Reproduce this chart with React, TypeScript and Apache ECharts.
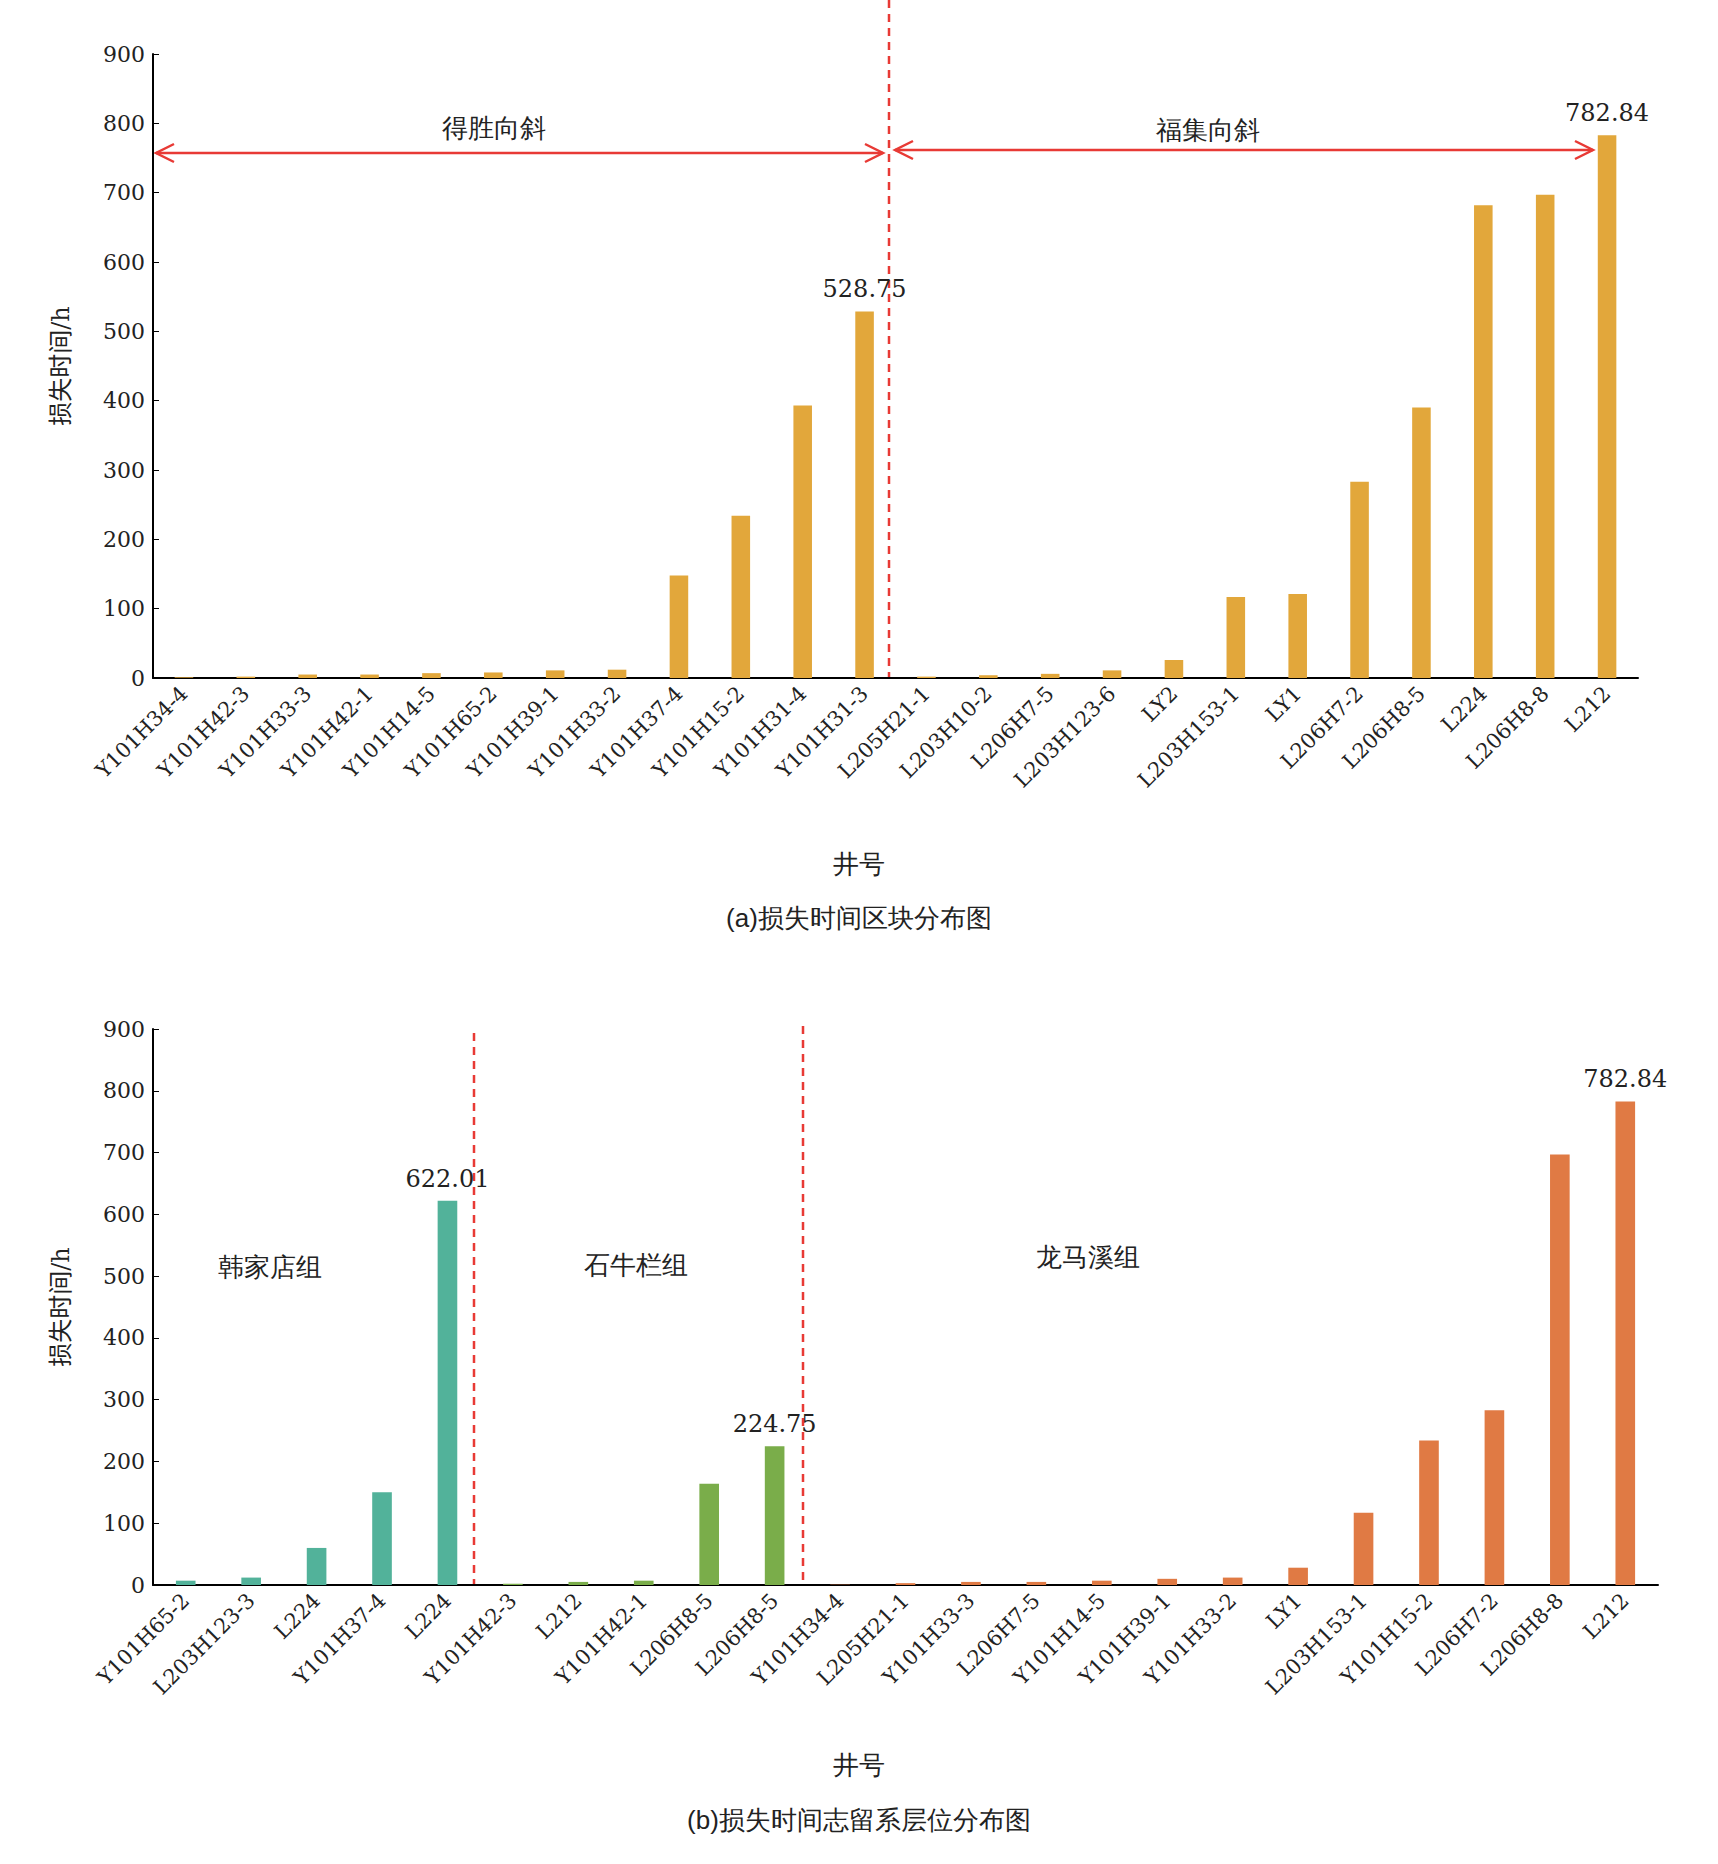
import { useEffect, useRef } from "react";
import * as echarts from "echarts";

const wellsA = [
  "Y101H34-4", "Y101H42-3", "Y101H33-3", "Y101H42-1", "Y101H14-5", "Y101H65-2", "Y101H39-1", "Y101H33-2",
  "Y101H37-4", "Y101H15-2", "Y101H31-4", "Y101H31-3", "L205H21-1", "L203H10-2", "L206H7-5", "L203H123-6",
  "LY2", "L203H153-1", "LY1", "L206H7-2", "L206H8-5", "L224", "L206H8-8", "L212",
];
const lossA = [1, 2, 5, 5, 7, 8, 11, 12, 148, 234, 393, 528.75, 2, 4, 6, 11, 26, 117, 121, 283, 390, 682, 697, 782.84];
const labeledA = [11, 23];

const wellsB = [
  "Y101H65-2", "L203H123-3", "L224", "Y101H37-4", "L224",
  "Y101H42-3", "L212", "Y101H42-1", "L206H8-5", "L206H8-5",
  "Y101H34-4", "L205H21-1", "Y101H33-3", "L206H7-5", "Y101H14-5", "Y101H39-1", "Y101H33-2", "LY1",
  "L203H153-1", "Y101H15-2", "L206H7-2", "L206H8-8", "L212",
];
const lossB = [7, 12, 60, 150, 622.01, 2, 5, 7, 164, 224.75, 0.5, 3, 5, 5, 7, 10, 12, 28, 117, 234, 283, 697, 782.84];
const groupB = [0, 0, 0, 0, 0, 1, 1, 1, 1, 1, 2, 2, 2, 2, 2, 2, 2, 2, 2, 2, 2, 2, 2];
const labeledB = [4, 9, 22];
const groupColors = ["#52B29A", "#7AAD4A", "#E07A44"];
const colorA = "#E2A73B";

const FONT = "'DejaVu Serif', 'Liberation Serif', 'Noto Sans CJK SC', serif";
const RED = "#E83A35";

export default function App() {
  const ref = useRef<HTMLDivElement>(null);

  useEffect(() => {
    if (!ref.current) return;
    const chart = echarts.init(ref.current, undefined, { renderer: "svg" });
    const axisLabel = { rotate: 45, interval: 0, fontSize: 21, color: "#222", fontFamily: FONT, margin: 12 };
    const yAxisBase = {
      type: "value" as const, min: 0, max: 900, interval: 100,
      name: "损失时间/h", nameLocation: "middle" as const, nameGap: 80,
      nameTextStyle: { fontSize: 24, color: "#222", fontFamily: FONT },
      axisLine: { show: true, lineStyle: { color: "#000", width: 2 } },
      axisTick: { show: true, inside: true, length: 6, lineStyle: { color: "#000" } },
      splitLine: { show: false },
      axisLabel: { fontSize: 22, color: "#222", fontFamily: FONT },
    };
    const xAxisBase = {
      type: "category" as const,
      axisLine: { lineStyle: { color: "#000", width: 2 } },
      axisTick: { show: false },
      axisLabel,
    };
    const dataLabel = { show: true, position: "top" as const, fontSize: 24, color: "#222", fontFamily: FONT, distance: 10 };
    const dash = (x: number, y1: number, y2: number) => ({
      type: "line", shape: { x1: x, y1, x2: x, y2 }, style: { stroke: RED, lineWidth: 2.5, lineDash: [8, 6] },
    });
    const arrow = (x1: number, x2: number, y: number) => [
      { type: "line", shape: { x1, y1: y, x2, y2: y }, style: { stroke: RED, lineWidth: 2.5 } },
      { type: "polyline", shape: { points: [[x1 + 18, y - 9], [x1, y], [x1 + 18, y + 9]] }, style: { stroke: RED, lineWidth: 2.5, fill: "none" } },
      { type: "polyline", shape: { points: [[x2 - 18, y - 9], [x2, y], [x2 - 18, y + 9]] }, style: { stroke: RED, lineWidth: 2.5, fill: "none" } },
    ];
    const txt = (x: number, y: number, text: string, size = 26) => ({
      type: "text", x, y, style: { text, fontSize: size, fill: "#222", font: `${size}px ${FONT}`, align: "center", verticalAlign: "middle" },
    });

    chart.setOption({
      animation: false,
      backgroundColor: "#fff",
      textStyle: { fontFamily: FONT },
      grid: [
        { left: 153, top: 54, width: 1485, height: 624 },
        { left: 153, top: 1029, width: 1505, height: 556 },
      ],
      xAxis: [
        { ...xAxisBase, gridIndex: 0, data: wellsA },
        { ...xAxisBase, gridIndex: 1, data: wellsB },
      ],
      yAxis: [
        { ...yAxisBase, gridIndex: 0 },
        { ...yAxisBase, gridIndex: 1 },
      ],
      series: [
        {
          type: "bar", xAxisIndex: 0, yAxisIndex: 0, barWidth: "30%",
          data: lossA.map((v, i) => ({ value: v, itemStyle: { color: colorA }, label: labeledA.includes(i) ? dataLabel : { show: false } })),
        },
        {
          type: "bar", xAxisIndex: 1, yAxisIndex: 1, barWidth: "30%",
          data: lossB.map((v, i) => ({ value: v, itemStyle: { color: groupColors[groupB[i]] }, label: labeledB.includes(i) ? dataLabel : { show: false } })),
        },
      ],
      graphic: [
        dash(889, 0, 678),
        dash(474, 1033, 1585),
        dash(803, 1026, 1585),
        ...arrow(156, 883, 153),
        ...arrow(895, 1593, 150),
        txt(494, 128, "得胜向斜"),
        txt(1208, 130, "福集向斜"),
        txt(270, 1267, "韩家店组"),
        txt(636, 1265, "石牛栏组"),
        txt(1088, 1257, "龙马溪组"),
        txt(859, 864, "井号"),
        txt(859, 918, "(a)损失时间区块分布图"),
        txt(859, 1765, "井号"),
        txt(859, 1820, "(b)损失时间志留系层位分布图"),
      ],
    });
    return () => chart.dispose();
  }, []);

  return <div ref={ref} style={{ position: "fixed", left: 0, top: 0, width: 1718, height: 1864 }} />;
}
